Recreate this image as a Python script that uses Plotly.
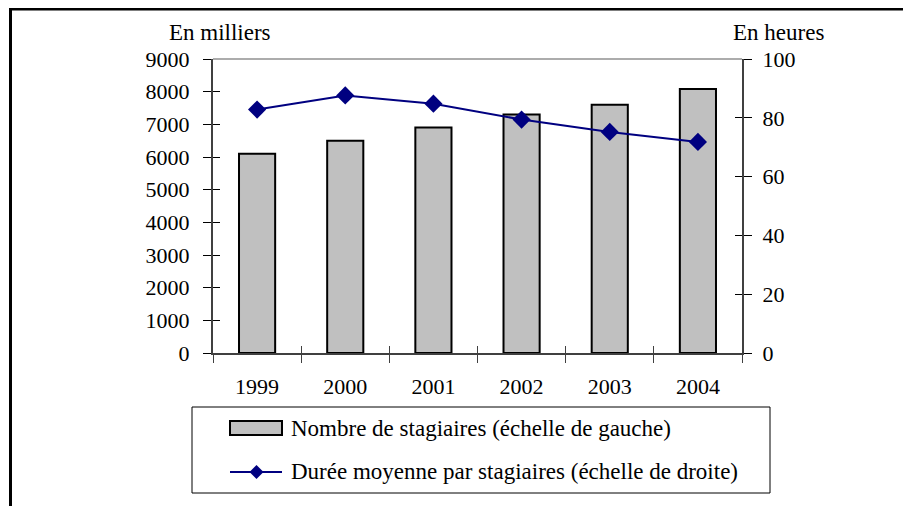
import plotly.graph_objects as go

years = ["1999", "2000", "2001", "2002", "2003", "2004"]
stagiaires = [6100, 6500, 6900, 7300, 7600, 8080]
duree = [82.8, 87.6, 84.8, 79.4, 75.2, 71.8]
left_ticks = [0, 1000, 2000, 3000, 4000, 5000, 6000, 7000, 8000, 9000]
right_ticks = [0, 20, 40, 60, 80, 100]
bar_name = "Nombre de stagiaires (échelle de gauche)"
line_name = "Durée moyenne par stagiaires (échelle de droite)"

OFF = 8  # page body margin offset
W, H = 911, 506
L, R, T, B = 213 - OFF, 742 - OFF, 59 - OFF, 353 - OFF
pw, ph = R - L, B - T

def px(x):
    return (x - OFF - L) / pw

def py(y):
    return (B - (y - OFF)) / ph

FONT = "Liberation Serif"
NAVY = "#000080"
axfont = dict(family=FONT, size=22, color="black")
txtfont = dict(family=FONT, size=23, color="black")

fig = go.Figure()
fig.add_trace(go.Bar(
    x=years, y=stagiaires, name=bar_name,
    marker=dict(color="#C0C0C0", line=dict(color="black", width=2)),
    yaxis="y", showlegend=False,
))
fig.add_trace(go.Scatter(
    x=years, y=duree, name=line_name,
    mode="lines+markers", line=dict(color=NAVY, width=2),
    marker=dict(symbol="diamond", size=14, color=NAVY),
    yaxis="y2", showlegend=False,
))
# invisible traces so the overlay tick axes render
fig.add_trace(go.Scatter(x=[None], y=[None], yaxis="y3", showlegend=False, hoverinfo="skip"))
fig.add_trace(go.Scatter(x=[None], y=[None], yaxis="y4", showlegend=False, hoverinfo="skip"))
fig.add_trace(go.Scatter(x=[None], y=[None], xaxis="x2", showlegend=False, hoverinfo="skip"))

# legend (drawn manually to match the wide symbols)
lg_x0, lg_x1, lg_y0, lg_y1 = 192, 770, 407, 493
sym_x0, sym_x1 = 230, 282
row1, row2 = 428, 472
dmx, dmy, dh = 256.5, row2, 7

shapes = [
    dict(type="line", xref="paper", yref="paper", x0=0, x1=1, y0=1, y1=1,
         line=dict(color="#909090", width=1.5)),
    dict(type="line", xref="paper", yref="paper", x0=px(10.5), x1=px(10.5),
         y0=py(8), y1=py(520), line=dict(color="black", width=3)),
    dict(type="line", xref="paper", yref="paper", x0=px(9), x1=px(930),
         y0=py(9), y1=py(9), line=dict(color="black", width=3)),
    dict(type="rect", xref="paper", yref="paper", x0=px(lg_x0), x1=px(lg_x1),
         y0=py(lg_y1), y1=py(lg_y0), line=dict(color="black", width=1),
         fillcolor="white", layer="below"),
    dict(type="rect", xref="paper", yref="paper", x0=px(sym_x0), x1=px(sym_x1),
         y0=py(row1 + 7), y1=py(row1 - 7), line=dict(color="black", width=2),
         fillcolor="#C0C0C0"),
    dict(type="line", xref="paper", yref="paper", x0=px(sym_x0), x1=px(sym_x1),
         y0=py(row2), y1=py(row2), line=dict(color=NAVY, width=2)),
    dict(type="path", xref="paper", yref="paper",
         path=(f"M {px(dmx)} {py(dmy - dh)} L {px(dmx + dh)} {py(dmy)} "
               f"L {px(dmx)} {py(dmy + dh)} L {px(dmx - dh)} {py(dmy)} Z"),
         fillcolor=NAVY, line=dict(color=NAVY, width=0)),
]

annotations = [
    dict(text="En milliers", x=px(220), y=py(33), xref="paper", yref="paper",
         showarrow=False, font=txtfont, xanchor="center", yanchor="middle"),
    dict(text="En heures", x=px(778), y=py(33), xref="paper", yref="paper",
         showarrow=False, font=txtfont, xanchor="center", yanchor="middle"),
    dict(text=bar_name, x=px(289), y=py(row1), xref="paper", yref="paper",
         showarrow=False, font=txtfont, xanchor="left", yanchor="middle"),
    dict(text=line_name, x=px(289), y=py(row2), xref="paper", yref="paper",
         showarrow=False, font=txtfont, xanchor="left", yanchor="middle"),
]

fig.update_layout(
    width=W, height=H,
    margin=dict(l=L, r=W - R, t=T, b=H - B),
    paper_bgcolor="white", plot_bgcolor="white",
    font=axfont,
    bargap=0.59,
    showlegend=False,
    xaxis=dict(type="category", tickson="boundaries", ticks="outside", ticklen=8,
               tickcolor="#404040", showline=True, linecolor="#404040", linewidth=2,
               showgrid=False, ticklabelstandoff=13, tickfont=axfont),
    yaxis=dict(range=[0, 9000], tickvals=left_ticks, ticks="outside", ticklen=8,
               tickcolor="black", showline=True, linecolor="#404040", linewidth=2,
               showgrid=False, zeroline=False, ticklabelstandoff=9, tickfont=axfont),
    yaxis2=dict(range=[0, 100], tickvals=right_ticks, overlaying="y", side="right",
                ticks="outside", ticklen=8, tickcolor="black", showline=True,
                linecolor="#404040", linewidth=2, showgrid=False, zeroline=False,
                ticklabelstandoff=6, tickfont=axfont),
    yaxis3=dict(range=[0, 9000], tickvals=left_ticks, overlaying="y", side="left",
                ticks="inside", ticklen=7, tickcolor="black", showticklabels=False,
                showline=False, showgrid=False, zeroline=False),
    yaxis4=dict(range=[0, 100], tickvals=right_ticks, overlaying="y", side="right",
                ticks="inside", ticklen=7, tickcolor="black", showticklabels=False,
                showline=False, showgrid=False, zeroline=False),
    xaxis2=dict(range=[-0.5, 5.5], tickvals=[-0.5, 0.5, 1.5, 2.5, 3.5, 4.5, 5.5],
                overlaying="x", side="bottom", ticks="inside", ticklen=7,
                tickcolor="#404040", showticklabels=False, showline=False,
                showgrid=False, zeroline=False),
    annotations=annotations,
    shapes=shapes,
)

fig.write_html("out.html")
